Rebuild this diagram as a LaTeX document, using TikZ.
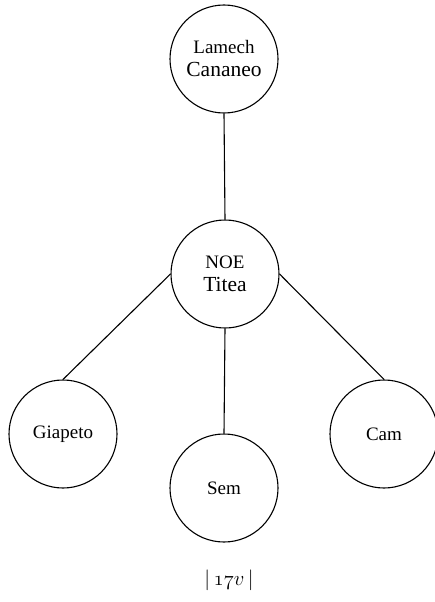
\documentclass[tikz,border=0pt]{standalone}
\usepackage{fontspec}
\newfontfamily\tnr{Liberation Serif}
\begin{document}
\begin{tikzpicture}[x=1pt,y=-1pt,
  person/.style={draw, circle, line width=1.1pt, minimum size=108pt, inner sep=0pt, align=center, font=\tnr\fontsize{19}{24}\selectfont},
  link/.style={line width=1.1pt}]
\useasboundingbox (0,0) rectangle (434,602);
\node[person] (lam) at (224,59) {Lamech\\[-1pt]{\fontsize{21.5}{24}\selectfont Cananeo}};
\node[person] (noe) at (225,274) {NOE\\[-1pt]{\fontsize{21.5}{24}\selectfont Titea}};
\node[person] (gia) at (63,434) {Giapeto};
\node[person] (sem) at (224,488) {Sem};
\node[person] (cam) at (384,434) {Cam};
\draw[link] (lam.south) -- (noe.north);
\draw[link] (noe.west) -- (gia.north);
\draw[link] (noe.east) -- (cam.north);
\draw[link] (noe.south) -- (sem.north);
\node[font=\fontsize{20}{24}\selectfont] (lbl) at (229,580) {$\bigl\vert\,\mathnormal{17}v\,\bigr\vert$};
\end{tikzpicture}
\end{document}
